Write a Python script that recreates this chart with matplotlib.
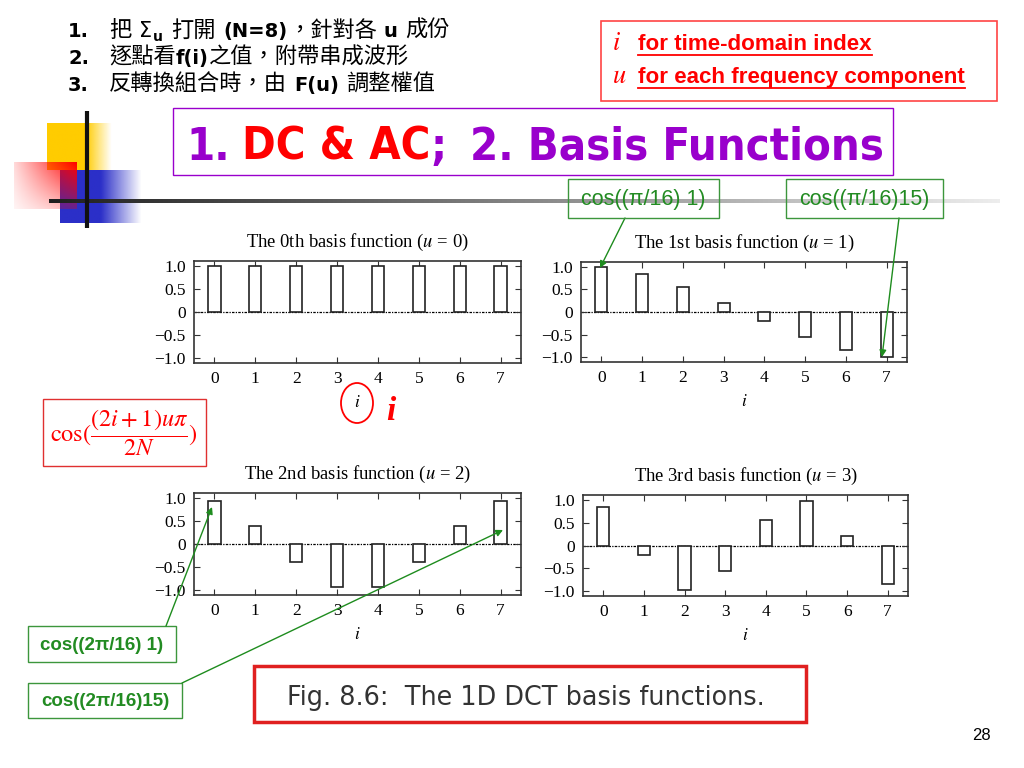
import numpy as np
import matplotlib
matplotlib.use("Agg")
import matplotlib.pyplot as plt
from matplotlib.patches import Rectangle, Ellipse

# values (8-point DCT basis, u = 0..3)
i_idx = [0, 1, 2, 3, 4, 5, 6, 7]
basis_u0 = [1.0, 1.0, 1.0, 1.0, 1.0, 1.0, 1.0, 1.0]
basis_u1 = [0.98, 0.83, 0.56, 0.20, -0.20, -0.56, -0.83, -0.98]
basis_u2 = [0.92, 0.38, -0.38, -0.92, -0.92, -0.38, 0.38, 0.92]
basis_u3 = [0.83, -0.20, -0.98, -0.56, 0.56, 0.98, 0.20, -0.83]
all_basis = [basis_u0, basis_u1, basis_u2, basis_u3]

panel_titles = ["The 0th basis function ($u$ = 0)",
                "The 1st basis function ($u$ = 1)",
                "The 2nd basis function ($u$ = 2)",
                "The 3rd basis function ($u$ = 3)"]
y_ticks = [-1.0, -0.5, 0, 0.5, 1.0]
y_tick_labels = ["\u22121.0", "\u22120.5", "0", "0.5", "1.0"]

W, H = 1024, 768
plt.rcParams["mathtext.fontset"] = "stix"

SERIF = "Liberation Serif"
SANS = "Liberation Sans"
CJK = ["Noto Sans CJK TC", "DejaVu Sans"]
GREEN = "#228B22"
GREEN_EDGE = "#3C963C"
PURPLE = "#9900CC"

fig = plt.figure(figsize=(10.24, 7.68), dpi=100)

# chart panels: (left, top, right, bottom) in pixels
panel_boxes = [(194, 261, 521, 363), (581, 262, 907, 362),
               (194, 493, 521, 595), (583, 495, 908, 596)]

for box, vals, title in zip(panel_boxes, all_basis, panel_titles):
    x0, y0, x1, y1 = box
    ax = fig.add_axes([x0 / W, 1 - y1 / H, (x1 - x0) / W, (y1 - y0) / H])
    ax.axhline(0, color="black", lw=0.9, ls=(0, (2, 1, 1, 1)), zorder=1)
    ax.bar(i_idx, vals, width=0.3, color="white", edgecolor="#222222", lw=1.2, zorder=2)
    ax.set_xlim(-0.5, 7.5)
    ax.set_ylim(-1.1, 1.1)
    ax.set_xticks(i_idx)
    ax.set_yticks(y_ticks)
    ax.set_yticklabels(y_tick_labels)
    ax.tick_params(direction="in", top=True, right=True, length=4, labelsize=12.5, pad=6,
                   color="#333333")
    for lab in ax.get_xticklabels() + ax.get_yticklabels():
        lab.set_fontfamily(SERIF)
    for sp in ax.spines.values():
        sp.set_linewidth(1.2)
        sp.set_color("#333333")
    ax.set_title(title, fontsize=13.4, family=SERIF, pad=10)
    ax.set_xlabel("$i$", fontsize=12.5, labelpad=4)

# overlay in pixel coordinates for the slide decorations
ov = fig.add_axes([0, 0, 1, 1])
ov.set_zorder(5)
ov.patch.set_alpha(0)
ov.axis("off")
renderer = fig.canvas.get_renderer()


def grad_rect(x0, y0, x1, y1, rgb, xp, yp=((0, 1), (1, 1)), z=1):
    nx, ny = 80, 40
    tx = np.linspace(0, 1, nx)
    ty = np.linspace(0, 1, ny)
    axp = np.interp(tx, [p[0] for p in xp], [p[1] for p in xp])
    ayp = np.interp(ty, [p[0] for p in yp], [p[1] for p in yp])
    img = np.zeros((ny, nx, 4))
    img[..., :3] = matplotlib.colors.to_rgb(rgb)
    img[..., 3] = np.clip(np.outer(ayp, axp), 0, 1)
    ov.imshow(img, extent=(x0, x1, y1, y0), origin="upper", aspect="auto",
              interpolation="bilinear", zorder=z)


grad_rect(47, 123, 112, 170, "#FFCC00", [(0, 1), (0.6, 1), (1, 0)], z=1)
grad_rect(60, 170, 142, 223, "#2B2FC8", [(0, 1), (0.5, 1), (1, 0)], z=2)
grad_rect(14, 162, 77, 209, "#FF0000", [(0, 0.15), (1, 1)], [(0, 1), (1, 0.3)], z=3)

# long horizontal rule, dark to light
strip = np.zeros((1, 200, 3))
shade = np.linspace(0.12, 0.93, 200)
strip[0, :, 0] = shade
strip[0, :, 1] = shade
strip[0, :, 2] = shade
ov.imshow(strip, extent=(49, 1000, 203, 199), origin="upper", aspect="auto",
          interpolation="bilinear", zorder=4)
ov.plot([87, 87], [111, 228], color="#111111", lw=3, zorder=5, solid_capstyle="butt")


def draw_runs(x, y, runs):
    texts = []
    for s, gap, kw in runs:
        kw = dict(kw)
        dy = kw.pop("dy", 0)
        x += gap
        t = ov.text(x, y + dy, s, va="baseline", ha="left", zorder=6, **kw)
        x += t.get_window_extent(renderer).width
        texts.append(t)
    return x, texts


latin_b = dict(family="DejaVu Sans", weight="bold", size=14)
cjk = dict(family=CJK, size=16)

draw_runs(68, 37, [("1.", 0, latin_b), ("把", 20, cjk), ("Σ", 8, dict(family="DejaVu Sans", size=15)),
                   ("u", 0, dict(family="DejaVu Sans", weight="bold", size=10, dy=4)),
                   ("打開", 9, cjk), ("(N=8)", 8, latin_b), ("，針對各", 0, cjk),
                   ("u", 7, latin_b), ("成份", 7, cjk)])
draw_runs(68, 64, [("2.", 0, latin_b), ("逐點看", 20, cjk), ("f(i)", 0, latin_b),
                   ("之值，附帶串成波形", 0, cjk)])
draw_runs(68, 91, [("3.", 0, latin_b), ("反轉換組合時，由", 20, cjk), ("F(u)", 7, latin_b),
                   ("調整權值", 7, cjk)])

# red legend box top right
ov.add_patch(Rectangle((601, 21), 396, 80, fill=False, ec="#FF4444", lw=1.2))
for yb, sym, txt in [(50, "$i$", "for time-domain index"),
                     (83, "$u$", "for each frequency component")]:
    ov.text(612, yb, sym, color="red", size=19, va="baseline")
    t = ov.text(638, yb, txt, color="red", family=SANS, weight="bold", size=16.1, va="baseline")
    w = t.get_window_extent(renderer).width
    ov.plot([638, 638 + w], [yb + 5, yb + 5], color="red", lw=1.3)

# title
ov.add_patch(Rectangle((173, 108), 720, 67, fill=False, ec=PURPLE, lw=1))
tkw = dict(family="DejaVu Sans", weight="bold", size=32.5, fontstretch="condensed")
draw_runs(186, 160, [("1.", 0, dict(color=PURPLE, **tkw)), ("DC & AC", 12, dict(color="red", **tkw)),
                     (";", 0, dict(color=PURPLE, **tkw)), ("2. Basis Functions", 24, dict(color=PURPLE, **tkw))])

# green callouts
akw = dict(arrowstyle="-|>", color="#1E8C1E", lw=1, mutation_scale=10, shrinkA=0, shrinkB=0)
ov.add_patch(Rectangle((568, 179), 151, 39, fill=False, ec=GREEN_EDGE, lw=1, zorder=6))
ov.text(643, 199, "cos((π/16) 1)", color=GREEN, family=SANS, size=15.5, ha="center",
        va="center", zorder=7)
ov.add_patch(Rectangle((786, 179), 157, 39, fill=False, ec=GREEN_EDGE, lw=1, zorder=6))
ov.text(864, 199, "cos((π/16)15)", color=GREEN, family=SANS, size=15.5, ha="center",
        va="center", zorder=7)
ov.annotate("", xy=(600, 268), xytext=(625, 218), arrowprops=akw)
ov.annotate("", xy=(882, 357), xytext=(899, 218), arrowprops=akw)

ov.add_patch(Rectangle((28, 626), 148, 36, fill=False, ec=GREEN_EDGE, lw=1))
ov.text(102, 645, "cos((2π/16) 1)", color=GREEN, family=SANS, weight="bold", size=13.5,
        ha="center", va="center")
ov.add_patch(Rectangle((28, 683), 154, 35, fill=False, ec=GREEN_EDGE, lw=1))
ov.text(105, 701, "cos((2π/16)15)", color=GREEN, family=SANS, weight="bold", size=13.5,
        ha="center", va="center")
ov.annotate("", xy=(212, 507), xytext=(166, 626), arrowprops=akw)
ov.annotate("", xy=(503, 530), xytext=(182, 683), arrowprops=akw)

# formula box and the i marker
ov.add_patch(Rectangle((43, 399), 163, 67, fill=False, ec="#E03030", lw=1))
ov.text(124, 433, r"$\cos(\dfrac{(2i+1)u\pi}{2N})$", color="red", size=17.5, ha="center",
        va="center")
ov.add_patch(Ellipse((357, 403), 32, 40, fill=False, ec="red", lw=1.3))
ov.text(391, 412, "i", color="red", family=SERIF, weight="bold", style="italic", size=24,
        ha="center", va="center")

# caption
ov.add_patch(Rectangle((254, 666), 552, 56, fill=False, ec="#E02020", lw=2.5))
ov.text(287, 705, "Fig. 8.6:  The 1D DCT basis functions.", color="#333333",
        family="DejaVu Sans", size=18.4, va="baseline")

ov.text(981, 736, "28", family=SANS, size=12, ha="center", va="center")

ov.set_xlim(0, W)
ov.set_ylim(H, 0)

fig.savefig("out.png", dpi=100)
